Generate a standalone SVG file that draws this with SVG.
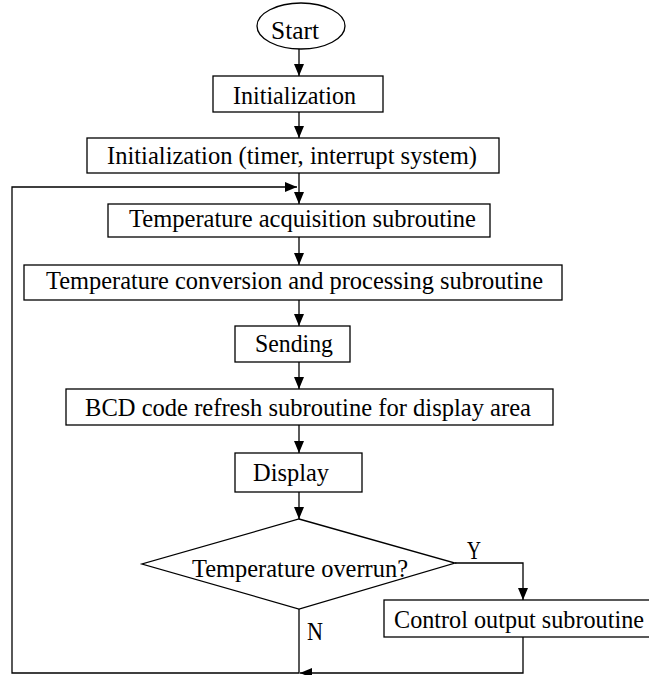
<svg xmlns="http://www.w3.org/2000/svg" width="649" height="675" viewBox="0 0 649 675">
<defs>
<style>
.b{fill:#fff;stroke:#000;stroke-width:1.3}
.c{fill:none;stroke:#000;stroke-width:1.3}
.t{font-family:"Liberation Serif","Times New Roman",serif;font-size:26px;fill:#000}
</style>
<marker id="ar" viewBox="0 0 12 10" refX="12" refY="5" markerWidth="12" markerHeight="10" markerUnits="userSpaceOnUse" orient="auto">
<path d="M0,0 L12,5 L0,10 Z" fill="#000"/>
</marker>
</defs>
<rect width="649" height="675" fill="#fff"/>
<g id="connectors">
<line class="c" x1="299" y1="49" x2="299" y2="76" marker-end="url(#ar)"/>
<line class="c" x1="299" y1="112" x2="299" y2="138" marker-end="url(#ar)"/>
<line class="c" x1="299" y1="173" x2="299" y2="204" marker-end="url(#ar)"/>
<line class="c" x1="299" y1="237" x2="299" y2="265" marker-end="url(#ar)"/>
<line class="c" x1="299" y1="300" x2="299" y2="326" marker-end="url(#ar)"/>
<line class="c" x1="299" y1="362" x2="299" y2="389" marker-end="url(#ar)"/>
<line class="c" x1="299" y1="425" x2="299" y2="453" marker-end="url(#ar)"/>
<line class="c" x1="299" y1="492" x2="299" y2="519" marker-end="url(#ar)"/>
<polyline class="c" points="455,563 523,563 523,600" marker-end="url(#ar)"/>
<polyline class="c" points="523,637 523,673 300,673" marker-end="url(#ar)"/>
<polyline class="c" points="299,609 299,673 12,673 12,187 297,187" marker-end="url(#ar)"/>
<text class="t" x="467" y="559" textLength="14" lengthAdjust="spacingAndGlyphs">Y</text>
<text class="t" x="307" y="640" textLength="16" lengthAdjust="spacingAndGlyphs">N</text>
</g>
<g id="start">
<ellipse class="b" cx="301" cy="26" rx="44" ry="23"/>
<text class="t" x="271" y="39" textLength="48" lengthAdjust="spacingAndGlyphs">Start</text>
</g>
<g id="init">
<rect class="b" x="213" y="76" width="170" height="36"/>
<text class="t" x="233" y="104" textLength="123" lengthAdjust="spacingAndGlyphs">Initialization</text>
</g>
<g id="init2">
<rect class="b" x="87" y="138" width="412" height="35"/>
<text class="t" x="107" y="164" textLength="370" lengthAdjust="spacingAndGlyphs">Initialization (timer, interrupt system)</text>
</g>
<g id="acq">
<rect class="b" x="108" y="204" width="382" height="33"/>
<text class="t" x="129" y="227" textLength="347" lengthAdjust="spacingAndGlyphs">Temperature acquisition subroutine</text>
</g>
<g id="conv">
<rect class="b" x="24" y="265" width="538" height="35"/>
<text class="t" x="46" y="289" textLength="497" lengthAdjust="spacingAndGlyphs">Temperature conversion and processing subroutine</text>
</g>
<g id="send">
<rect class="b" x="235" y="326" width="115" height="36"/>
<text class="t" x="255" y="352" textLength="78" lengthAdjust="spacingAndGlyphs">Sending</text>
</g>
<g id="bcd">
<rect class="b" x="66" y="389" width="487" height="36"/>
<text class="t" x="85" y="416" textLength="446" lengthAdjust="spacingAndGlyphs">BCD code refresh subroutine for display area</text>
</g>
<g id="display">
<rect class="b" x="235" y="453" width="127" height="39"/>
<text class="t" x="253" y="481" textLength="76" lengthAdjust="spacingAndGlyphs">Display</text>
</g>
<g id="decision">
<polygon class="b" points="299,519 455,563 299,609 142,564"/>
<text class="t" x="192" y="577" textLength="216" lengthAdjust="spacingAndGlyphs">Temperature overrun?</text>
</g>
<g id="control">
<rect class="b" x="384" y="600" width="280" height="37"/>
<text class="t" x="394" y="628" textLength="250" lengthAdjust="spacingAndGlyphs">Control output subroutine</text>
</g>
</svg>
